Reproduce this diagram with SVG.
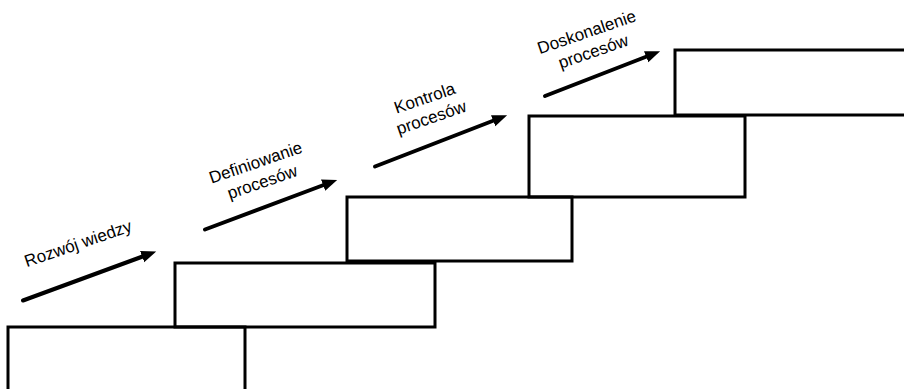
<svg xmlns="http://www.w3.org/2000/svg" width="904" height="389" viewBox="0 0 904 389">
<defs>
<style>
.step{fill:none;stroke:#000;stroke-width:3}
.arr{fill:none;stroke:#000;stroke-width:4;stroke-linecap:round;marker-end:url(#ah)}
.lbl{font-family:"Liberation Sans",Arial,sans-serif;font-size:17px;fill:#000;text-anchor:middle}
</style>
<marker id="ah" markerUnits="userSpaceOnUse" markerWidth="16" markerHeight="14" refX="2" refY="7" orient="auto">
<path d="M0,1 L15,7 L0,13 z" fill="#000"/>
</marker>
</defs>
<rect width="904" height="389" fill="#fff"/>
<g id="step1"><rect class="step" x="8" y="327" width="237" height="80"/></g>
<g id="step2"><rect class="step" x="175" y="263" width="260" height="64"/></g>
<g id="step3"><rect class="step" x="347" y="197" width="225" height="64"/></g>
<g id="step4"><rect class="step" x="529" y="116" width="216" height="81"/></g>
<g id="step5"><rect class="step" x="675" y="50" width="240" height="65"/></g>
<g id="connectors">
<path class="arr" d="M23,300.5 L144,256"/>
<path class="arr" d="M205,229.5 L325,184.5"/>
<path class="arr" d="M375,166.5 L495,120"/>
<path class="arr" d="M545,96 L648,56"/>
</g>
<g id="label1"><text class="lbl" transform="translate(80,249) rotate(-19)">Rozwój wiedzy</text></g>
<g id="label2"><text class="lbl" transform="translate(257.5,168) rotate(-19)"><tspan x="0" y="0">Definiowanie</tspan><tspan x="0" y="20.5">procesów</tspan></text></g>
<g id="label3"><text class="lbl" transform="translate(426.5,103.5) rotate(-19)"><tspan x="0" y="0">Kontrola</tspan><tspan x="0" y="20.5">procesów</tspan></text></g>
<g id="label4"><text class="lbl" transform="translate(588.5,37.5) rotate(-19)"><tspan x="0" y="0">Doskonalenie</tspan><tspan x="0" y="20.5">procesów</tspan></text></g>
</svg>
